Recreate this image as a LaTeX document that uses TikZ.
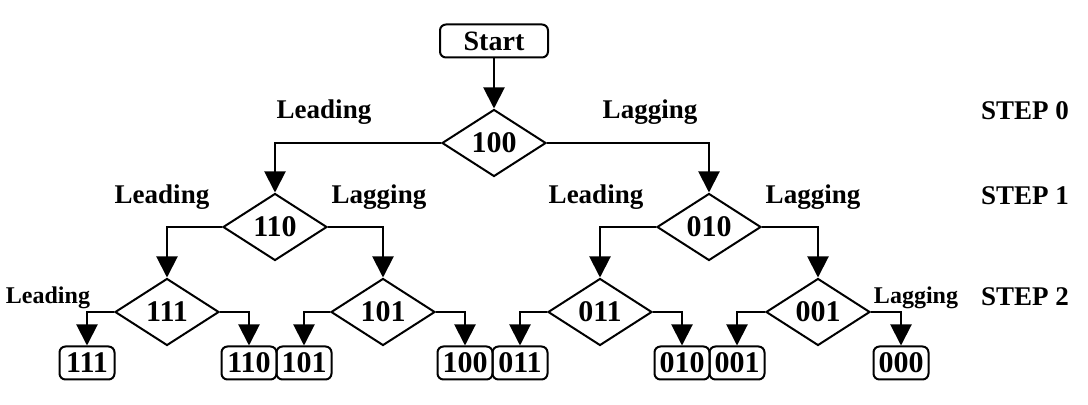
\documentclass[tikz,border=0pt]{standalone}
\usepackage{fontspec}
\setmainfont{Liberation Serif}
\usetikzlibrary{shapes.geometric,arrows.meta}

\tikzset{
  cond/.style={diamond,draw,line width=1pt,minimum width=52pt,minimum height=33.5pt,
    inner sep=0pt,font=\fontsize{15}{17}\selectfont\bfseries},
  leaf/.style={rectangle,rounded corners=3pt,draw,line width=1pt,minimum width=27.5pt,
    minimum height=16.5pt,inner sep=0pt,font=\fontsize{15}{17}\selectfont\bfseries},
  arr/.style={line width=1pt,-{Triangle[length=10.5pt,width=10.5pt]}},
  lbl/.style={font=\fontsize{13.5}{15}\selectfont\bfseries},
  lblsmall/.style={font=\fontsize{12}{14}\selectfont\bfseries}
}

\begin{document}
\begin{tikzpicture}[x=0.5pt,y=-0.5pt]
  \useasboundingbox (0,0) rectangle (1088,405);
  % start and decision nodes
  \node[leaf,minimum width=54pt,font=\fontsize{14}{16}\selectfont\bfseries] (start) at (494,41) {Start};
  \node[cond] (d100) at (494,143) {100};
  \node[cond] (d110) at (275,227) {110};
  \node[cond] (d010) at (709,227) {010};
  \node[cond] (d111) at (167,312) {111};
  \node[cond] (d101) at (383,312) {101};
  \node[cond] (d011) at (600,312) {011};
  \node[cond] (d001) at (818,312) {001};
  % final states
  \node[leaf] (l111) at (87,363) {111};
  \node[leaf] (l110) at (249,363) {110};
  \node[leaf] (l101) at (304,363) {101};
  \node[leaf] (l100) at (465,363) {100};
  \node[leaf] (l011) at (520,363) {011};
  \node[leaf] (l010) at (682,363) {010};
  \node[leaf] (l001) at (737,363) {001};
  \node[leaf] (l000) at (901,363) {000};
  % connectors
  \draw[arr] (start) -- (d100);
  \draw[arr] (d100.west) -| (d110.north);
  \draw[arr] (d100.east) -| (d010.north);
  \draw[arr] (d110.west) -| (d111.north);
  \draw[arr] (d110.east) -| (d101.north);
  \draw[arr] (d010.west) -| (d011.north);
  \draw[arr] (d010.east) -| (d001.north);
  \draw[arr] (d111.west) -| (l111.north);
  \draw[arr] (d111.east) -| (l110.north);
  \draw[arr] (d101.west) -| (l101.north);
  \draw[arr] (d101.east) -| (l100.north);
  \draw[arr] (d011.west) -| (l011.north);
  \draw[arr] (d011.east) -| (l010.north);
  \draw[arr] (d001.west) -| (l001.north);
  \draw[arr] (d001.east) -| (l000.north);
  % labels
  \node[lbl] (t0a) at (324,112) {Leading};
  \node[lbl] (t0b) at (650,112) {Lagging};
  \node[lbl] (t1a) at (162,197) {Leading};
  \node[lbl] (t1b) at (379,197) {Lagging};
  \node[lbl] (t1c) at (596,197) {Leading};
  \node[lbl] (t1d) at (813,197) {Lagging};
  \node[lblsmall] (t2a) at (48,298) {Leading};
  \node[lblsmall] (t2b) at (916,298) {Lagging};
  \node[lbl] (s0) at (1025,111) {STEP 0};
  \node[lbl] (s1) at (1025,196) {STEP 1};
  \node[lbl] (s2) at (1025,297) {STEP 2};
\end{tikzpicture}
\end{document}
